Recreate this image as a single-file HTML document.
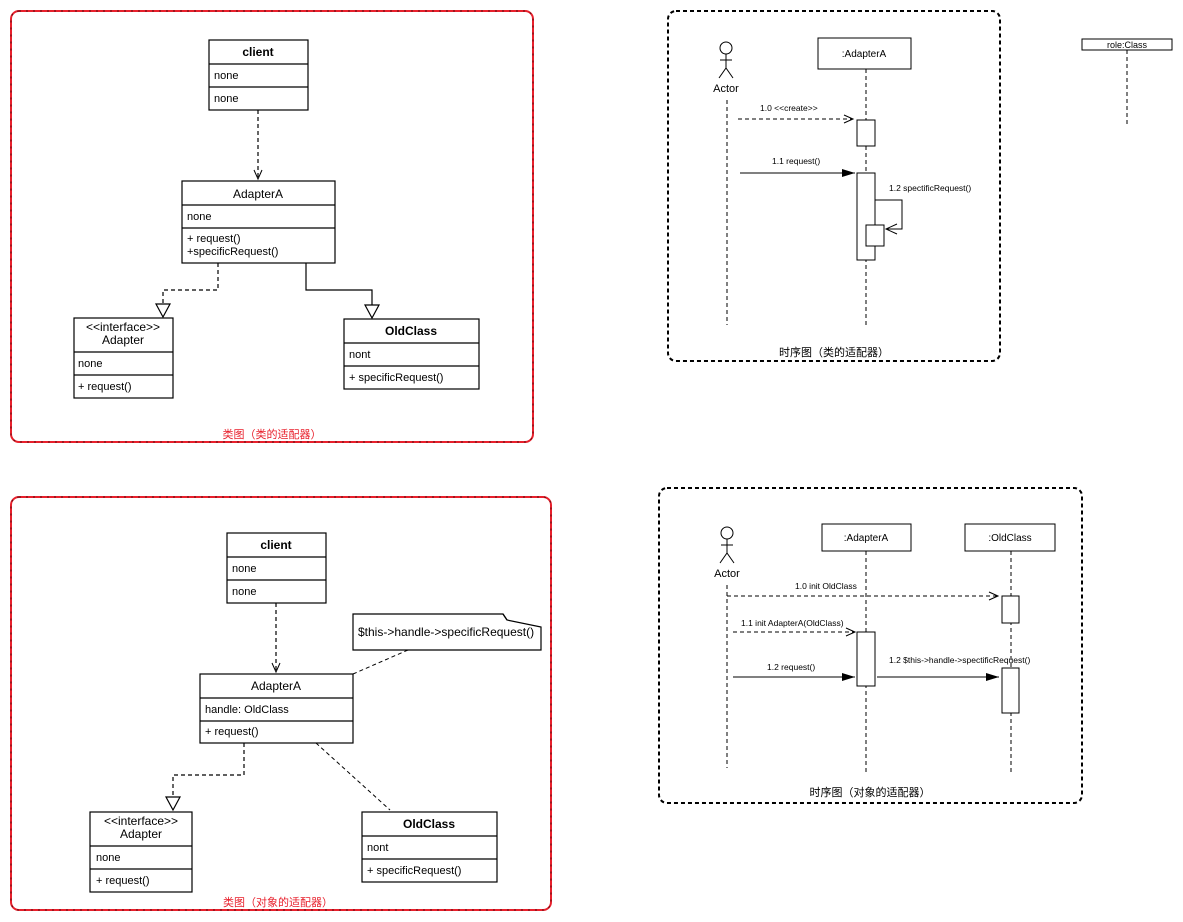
<!DOCTYPE html>
<html><head><meta charset="utf-8"><style>
html,body{margin:0;padding:0;background:#fff;width:1183px;height:922px;overflow:hidden}
svg{display:block}
text{font-family:"Liberation Sans","Noto Sans CJK SC",sans-serif;fill:#000}
</style></head><body>
<svg width="1183" height="922" viewBox="0 0 1183 922" xmlns="http://www.w3.org/2000/svg">
<defs>
<marker id="open" markerWidth="12" markerHeight="10" refX="10" refY="5" orient="auto" markerUnits="userSpaceOnUse"><path d="M1,1 L10,5 L1,9" fill="none" stroke="#000" stroke-width="1"/></marker>
<marker id="fill" markerWidth="14" markerHeight="10" refX="13" refY="5" orient="auto" markerUnits="userSpaceOnUse"><path d="M0,1 L13,5 L0,9 Z" fill="#000"/></marker>
</defs>
<g fill="none">
<rect x="11" y="11" width="522" height="431" rx="8" stroke="#e8202c" stroke-width="2"/>
<rect x="11" y="11" width="522" height="431" rx="8" stroke="#000" stroke-width="1" stroke-dasharray="2 5" opacity="0.6"/>
<rect x="11" y="497" width="540" height="413" rx="8" stroke="#e8202c" stroke-width="2"/>
<rect x="11" y="497" width="540" height="413" rx="8" stroke="#000" stroke-width="1" stroke-dasharray="2 5" opacity="0.6"/>
<rect x="668" y="11" width="332" height="350" rx="8" stroke="#000" stroke-width="2" stroke-dasharray="4 3"/>
<rect x="659" y="488" width="423" height="315" rx="8" stroke="#000" stroke-width="2" stroke-dasharray="4 3"/>
</g>

<g fill="#fff" stroke="#000" stroke-width="1.2">
<rect x="209" y="40" width="99" height="70"/><line x1="209" y1="64" x2="308" y2="64"/><line x1="209" y1="87" x2="308" y2="87"/>
<rect x="182" y="181" width="153" height="82"/><line x1="182" y1="205" x2="335" y2="205"/><line x1="182" y1="228" x2="335" y2="228"/>
<rect x="74" y="318" width="99" height="80"/><line x1="74" y1="352" x2="173" y2="352"/><line x1="74" y1="375" x2="173" y2="375"/>
<rect x="344" y="319" width="135" height="70"/><line x1="344" y1="343" x2="479" y2="343"/><line x1="344" y1="366" x2="479" y2="366"/>
<rect x="227" y="533" width="99" height="70"/><line x1="227" y1="557" x2="326" y2="557"/><line x1="227" y1="580" x2="326" y2="580"/>
<rect x="200" y="674" width="153" height="69"/><line x1="200" y1="698" x2="353" y2="698"/><line x1="200" y1="721" x2="353" y2="721"/>
<rect x="90" y="812" width="102" height="80"/><line x1="90" y1="846" x2="192" y2="846"/><line x1="90" y1="869" x2="192" y2="869"/>
<rect x="362" y="812" width="135" height="70"/><line x1="362" y1="836" x2="497" y2="836"/><line x1="362" y1="859" x2="497" y2="859"/>
<path d="M353,614 H503 L507,620 L541,627 V650 H353 Z"/>
<path d="M503,614 L507,620" fill="none"/>
</g>

<g fill="none" stroke="#000" stroke-width="1.2">
<line x1="258" y1="110" x2="258" y2="179" stroke-dasharray="4 3" marker-end="url(#open)"/>
<path d="M218,263 V290 H163 V304" stroke-dasharray="4 3"/>
<path d="M156,304 H170 L163,317 Z" fill="#fff"/>
<path d="M306,263 V290 H372 V305"/>
<path d="M365,305 H379 L372,318 Z" fill="#fff"/>
<line x1="276" y1="603" x2="276" y2="672" stroke-dasharray="4 3" marker-end="url(#open)"/>
<line x1="353" y1="674" x2="408" y2="650" stroke-dasharray="4 3" stroke-width="1"/>
<line x1="316" y1="743" x2="390" y2="810" stroke-dasharray="4 3" stroke-width="1"/>
<path d="M244,743 V775 H173 V797" stroke-dasharray="4 3"/>
<path d="M166,797 H180 L173,810 Z" fill="#fff"/>
</g>

<g font-size="11">
<text x="258" y="56" text-anchor="middle" font-weight="bold" font-size="12">client</text>
<text x="214" y="79">none</text><text x="214" y="102">none</text>
<text x="258" y="198" text-anchor="middle" font-size="12">AdapterA</text>
<text x="187" y="220">none</text>
<text x="187" y="242">+ request()</text><text x="187" y="255">+specificRequest()</text>
<text x="123" y="331" text-anchor="middle" font-size="12">&lt;&lt;interface&gt;&gt;</text>
<text x="123" y="344" text-anchor="middle" font-size="12">Adapter</text>
<text x="78" y="367">none</text><text x="78" y="390">+ request()</text>
<text x="411" y="335" text-anchor="middle" font-weight="bold" font-size="12">OldClass</text>
<text x="349" y="358">nont</text><text x="349" y="381">+ specificRequest()</text>
<text x="272" y="438" text-anchor="middle" style="fill:#e8202c">类图（类的适配器）</text>

<text x="276" y="549" text-anchor="middle" font-weight="bold" font-size="12">client</text>
<text x="232" y="572">none</text><text x="232" y="595">none</text>
<text x="358" y="636" font-size="12">$this-&gt;handle-&gt;specificRequest()</text>
<text x="276" y="690" text-anchor="middle" font-size="12">AdapterA</text>
<text x="205" y="713">handle: OldClass</text>
<text x="205" y="735">+ request()</text>
<text x="141" y="825" text-anchor="middle" font-size="12">&lt;&lt;interface&gt;&gt;</text>
<text x="141" y="838" text-anchor="middle" font-size="12">Adapter</text>
<text x="96" y="861">none</text><text x="96" y="884">+ request()</text>
<text x="429" y="828" text-anchor="middle" font-weight="bold" font-size="12">OldClass</text>
<text x="367" y="851">nont</text><text x="367" y="874">+ specificRequest()</text>
<text x="278" y="906" text-anchor="middle" style="fill:#e8202c">类图（对象的适配器）</text>
</g>

<g fill="none" stroke="#000" stroke-width="1">
<circle cx="726" cy="48" r="6"/><line x1="726" y1="54" x2="726" y2="68"/><line x1="720" y1="60" x2="732" y2="60"/><path d="M719,78 L726,68 L733,78"/>
<line x1="727" y1="100" x2="727" y2="325" stroke-dasharray="4 3"/>
<rect x="818" y="38" width="93" height="31" fill="#fff"/>
<line x1="866" y1="69" x2="866" y2="325" stroke-dasharray="4 3"/>
<rect x="857" y="120" width="18" height="26" fill="#fff"/>
<rect x="857" y="173" width="18" height="87" fill="#fff"/>
<path d="M875,200 H902 V229 H886"/>
<path d="M897,224 L886,229 L897,234"/>
<rect x="866" y="225" width="18" height="21" fill="#fff"/>
<line x1="738" y1="119" x2="853" y2="119" stroke-dasharray="4 3" marker-end="url(#open)"/>
<line x1="740" y1="173" x2="855" y2="173" marker-end="url(#fill)"/>
<rect x="1082" y="39" width="90" height="11" fill="#fff"/>
<line x1="1127" y1="50" x2="1127" y2="125" stroke-dasharray="4 3"/>
</g>
<g font-size="8.5">
<text x="726" y="92" text-anchor="middle" font-size="11">Actor</text>
<text x="864" y="57" text-anchor="middle" font-size="10">:AdapterA</text>
<text x="760" y="111">1.0 &lt;&lt;create&gt;&gt;</text>
<text x="772" y="164">1.1 request()</text>
<text x="889" y="191">1.2 spectificRequest()</text>
<text x="1127" y="48" text-anchor="middle" font-size="9">role:Class</text>
<text x="834" y="356" text-anchor="middle" font-size="11">时序图（类的适配器）</text>
</g>

<g fill="none" stroke="#000" stroke-width="1">
<circle cx="727" cy="533" r="6"/><line x1="727" y1="539" x2="727" y2="553"/><line x1="721" y1="545" x2="733" y2="545"/><path d="M720,563 L727,553 L734,563"/>
<line x1="727" y1="585" x2="727" y2="768" stroke-dasharray="4 3"/>
<rect x="822" y="524" width="89" height="27" fill="#fff"/>
<line x1="866" y1="551" x2="866" y2="775" stroke-dasharray="4 3"/>
<rect x="965" y="524" width="90" height="27" fill="#fff"/>
<line x1="1011" y1="551" x2="1011" y2="775" stroke-dasharray="4 3"/>
<line x1="727" y1="596" x2="998" y2="596" stroke-dasharray="4 3" marker-end="url(#open)"/>
<rect x="1002" y="596" width="17" height="27" fill="#fff"/>
<line x1="733" y1="632" x2="855" y2="632" stroke-dasharray="4 3" marker-end="url(#open)"/>
<rect x="857" y="632" width="18" height="54" fill="#fff"/>
<line x1="733" y1="677" x2="855" y2="677" marker-end="url(#fill)"/>
<line x1="877" y1="677" x2="999" y2="677" marker-end="url(#fill)"/>
<rect x="1002" y="668" width="17" height="45" fill="#fff"/>
</g>
<g font-size="8.5">
<text x="727" y="577" text-anchor="middle" font-size="11">Actor</text>
<text x="866" y="541" text-anchor="middle" font-size="10">:AdapterA</text>
<text x="1010" y="541" text-anchor="middle" font-size="10">:OldClass</text>
<text x="795" y="589">1.0 init OldClass</text>
<text x="741" y="626">1.1 init AdapterA(OldClass)</text>
<text x="767" y="670">1.2 request()</text>
<text x="889" y="663">1.2 $this-&gt;handle-&gt;spectificRequest()</text>
<text x="870" y="796" text-anchor="middle" font-size="11">时序图（对象的适配器）</text>
</g>
</svg>
</body></html>
